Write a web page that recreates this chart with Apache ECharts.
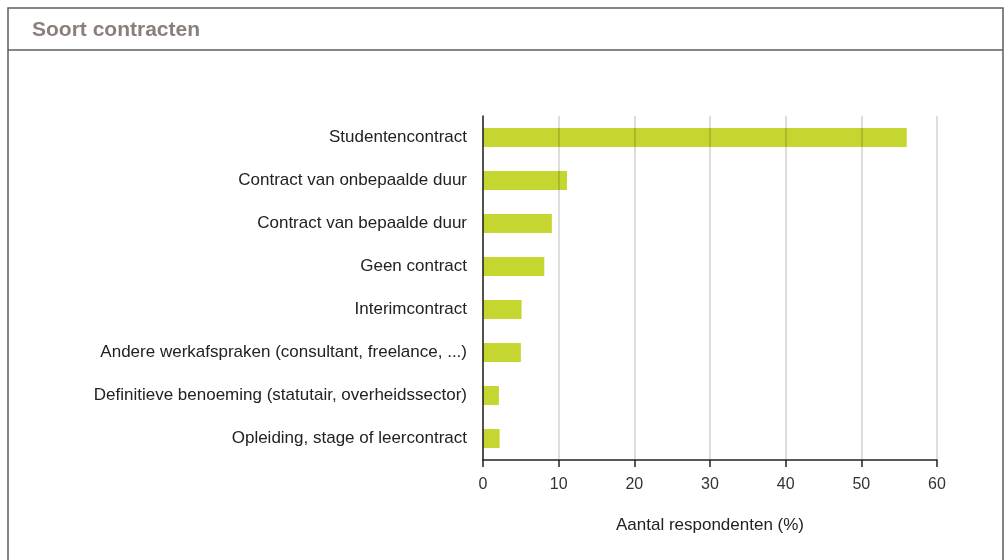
<!DOCTYPE html>
<html>
<head>
<meta charset="utf-8">
<script src="https://cdn.jsdelivr.net/npm/echarts@6/dist/echarts.min.js"></script>
<style>
  html, body { margin: 0; padding: 0; background: #fff; }
  #chart { width: 1005px; height: 560px; }
</style>
</head>
<body>
<div id="chart"></div>
<script>
// Contract types, top to bottom
const categories = [
  'Studentencontract',
  'Contract van onbepaalde duur',
  'Contract van bepaalde duur',
  'Geen contract',
  'Interimcontract',
  'Andere werkafspraken (consultant, freelance, ...)',
  'Definitieve benoeming (statutair, overheidssector)',
  'Opleiding, stage of leercontract'
];
// Share of respondents (%)
const shares = [56, 11.1, 9.1, 8.1, 5.1, 5.0, 2.1, 2.2];
const xTicks = [0, 10, 20, 30, 40, 50, 60];

const labelFont = '"Liberation Sans", Arial, sans-serif';
const chart = echarts.init(document.getElementById('chart'));

chart.setOption({
  animation: false,
  title: {
    text: 'Soort contracten',
    left: 32,
    top: 20,
    padding: 0,
    textStyle: { fontFamily: labelFont, fontSize: 21, fontWeight: 'bold', color: '#8a7f7a' }
  },
  graphic: [
    { type: 'polyline', shape: { points: [[8, 560], [8, 8], [1003, 8], [1003, 560]] },
      style: { stroke: '#5e5e5e', lineWidth: 1.5, fill: null } },
    { type: 'line', shape: { x1: 8, y1: 50, x2: 1003, y2: 50 },
      style: { stroke: '#5e5e5e', lineWidth: 1.5 } }
  ],
  grid: { left: 483, right: 68, top: 116, bottom: 100 },
  xAxis: {
    type: 'value',
    min: xTicks[0],
    max: xTicks[xTicks.length - 1],
    interval: 10,
    z: 3,
    name: 'Aantal respondenten (%)',
    nameLocation: 'middle',
    nameGap: 57,
    nameTextStyle: { fontFamily: labelFont, fontSize: 17, color: '#222', letterSpacing: 0.6 },
    axisLine: { show: true, lineStyle: { color: '#222', width: 1.5 } },
    axisTick: { show: true, length: 7, lineStyle: { color: '#222', width: 1.5 } },
    axisLabel: { margin: 17, fontFamily: labelFont, fontSize: 16, color: '#333' },
    splitLine: { show: true, lineStyle: { color: 'rgba(0,0,0,0.18)', width: 1.5 } }
  },
  yAxis: {
    type: 'category',
    inverse: true,
    data: categories,
    z: 3,
    axisLine: { show: true, lineStyle: { color: '#222', width: 1.5 } },
    axisTick: { show: false },
    axisLabel: { margin: 16, fontFamily: labelFont, fontSize: 17, color: '#222', letterSpacing: 0.6 }
  },
  series: [{
    type: 'bar',
    data: shares,
    barWidth: 19,
    z: 1,
    itemStyle: { color: '#c4d62f' }
  }]
});
</script>
</body>
</html>
